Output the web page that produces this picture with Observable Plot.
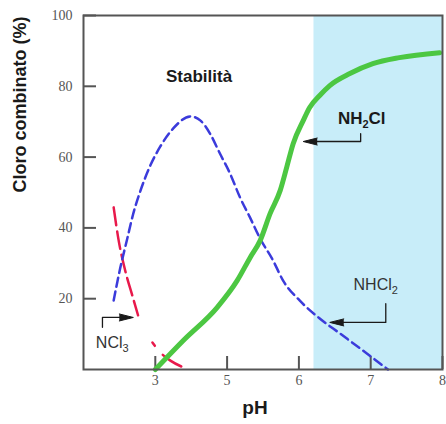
<!DOCTYPE html>
<html><head><meta charset="utf-8">
<script src="https://cdn.jsdelivr.net/npm/d3@7"></script>
<script src="https://cdn.jsdelivr.net/npm/@observablehq/plot@0.6"></script>
<style>body{margin:0;background:#fff;}</style>
</head><body><div id="chart"></div>
<script>
// Axis positions and labels (as printed on the chart)
const xTickValues = [3, 4, 5, 6, 7];
const xTickLabels = ["3", "5", "6", "7", "8"];
const yTickValues = [20, 40, 60, 80, 100];

// NH2Cl (green, solid)
const nh2clX = [3.0, 3.39, 3.86, 4.14, 4.32, 4.46, 4.60, 4.74, 4.83, 4.92, 5.06, 5.15, 5.29, 5.43, 5.71, 6.03, 6.40, 6.96];
const nh2clY = [0, 8.2, 17.5, 25.1, 31.6, 36.4, 44.1, 50.6, 57.1, 63.8, 70.3, 74.0, 77.4, 80.2, 83.6, 86.4, 88.1, 89.5];

// NHCl2 (blue, dashed)
const nhcl2X = [2.42, 2.51, 2.61, 2.69, 2.79, 2.93, 3.07, 3.25, 3.49, 3.63, 3.76, 3.90, 4.04, 4.18, 4.32, 4.46, 4.64, 4.78, 5.01, 5.29, 5.57, 5.89, 6.24];
const nhcl2Y = [19.5, 28.5, 37.0, 43.8, 50.3, 57.6, 63.0, 68.1, 71.5, 70.3, 66.7, 61.0, 55.4, 48.6, 42.9, 37.0, 30.8, 25.1, 19.5, 14.4, 10.2, 5.4, 0];

// NCl3 (red, dashed) – two visible pieces
const ncl3X = [2.42, 2.49, 2.58, 2.68, 2.76, 2.96, 3.07, 3.21, 3.39];
const ncl3Y = [45.8, 36.4, 28.0, 20.9, 15.3, 7.6, 4.8, 2.5, 0.6];
const ncl3Piece = [1, 1, 1, 1, 1, 2, 2, 2, 2];

// Stability zone (shaded)
const stableFrom = [5.21];
const stableTo = [7];

const nh2cl = nh2clX.map((x, i) => ({x, y: nh2clY[i]}));
const nhcl2 = nhcl2X.map((x, i) => ({x, y: nhcl2Y[i]}));
const ncl3 = ncl3X.map((x, i) => ({x, y: ncl3Y[i], piece: ncl3Piece[i]}));
const zone = stableFrom.map((f, i) => ({from: f, to: stableTo[i]}));

const sans = "'Liberation Sans', Arial, sans-serif";
const serif = "'Liberation Serif', 'Times New Roman', serif";
const ink = "#1a1a1a";

const plot = Plot.plot({
  width: 446, height: 424,
  marginLeft: 83, marginRight: 4, marginTop: 15, marginBottom: 55,
  x: {domain: [2, 7]},
  y: {domain: [0, 100]},
  style: {fontFamily: sans, background: "white", overflow: "visible"},
  marks: [
    Plot.rect(zone, {x1: "from", x2: "to", y1: 0, y2: 100, fill: "#c8edf9"}),
    Plot.axisX({ticks: xTickValues, tickFormat: d => xTickLabels[xTickValues.indexOf(d)], tickSize: -13, tickPadding: 19, fontFamily: serif, fontSize: 14, color: "#555", strokeWidth: 2, label: null}),
    Plot.axisY({ticks: yTickValues, tickSize: -13, tickPadding: 24, fontFamily: serif, fontSize: 14, color: "#555", strokeWidth: 2, label: null}),
    Plot.line(ncl3.filter(d => d.piece === 1), {x: "x", y: "y", stroke: "#e8194b", strokeWidth: 2.5, strokeDasharray: "18,6", curve: "monotone-x"}),
    Plot.line(ncl3.filter(d => d.piece === 2), {x: "x", y: "y", stroke: "#e8194b", strokeWidth: 2.5, strokeDasharray: "4,12,22", curve: "monotone-x"}),
    Plot.line(nhcl2, {x: "x", y: "y", stroke: "#3b3bdb", strokeWidth: 2.5, strokeDasharray: "9,5", curve: "monotone-x"}),
    Plot.line(nh2cl, {x: "x", y: "y", stroke: "#4cc742", strokeWidth: 5, curve: "monotone-x"}),
    Plot.frame({stroke: "#555", strokeWidth: 2}),
    // annotations
    Plot.text(["Stabilità"], {x: 3.61, y: 82.8, fontSize: 17, fontWeight: "bold", fill: ink}),
    Plot.text(["NH2Cl"], {x: 5.875, y: 70.9, fontSize: 17, fontWeight: "bold", fill: ink}),
    Plot.line([[5.86, 66.6], [5.86, 64.4], [5.24, 64.4]], {stroke: ink, strokeWidth: 1.3}),
    Plot.vector([[5.06, 64.4]], {x: d => d[0], y: d => d[1], length: 14, rotate: -90, anchor: "end", shape: "spike", r: 3.5, fill: ink, stroke: ink, strokeWidth: 1}),
    Plot.text(["NHCl2"], {x: 6.07, y: 24.0, fontSize: 16, fill: "#333"}),
    Plot.line([[6.21, 18.6], [6.21, 13.3], [5.61, 13.3]], {stroke: ink, strokeWidth: 1.3}),
    Plot.vector([[5.43, 13.3]], {x: d => d[0], y: d => d[1], length: 14, rotate: -90, anchor: "end", shape: "spike", r: 3.5, fill: ink, stroke: ink, strokeWidth: 1}),
    Plot.text(["NCl3"], {x: 2.40, y: 7.5, fontSize: 16, fill: "#333"}),
    Plot.line([[2.264, 11.9], [2.264, 14.7], [2.514, 14.7]], {stroke: ink, strokeWidth: 1.3}),
    Plot.vector([[2.694, 14.7]], {x: d => d[0], y: d => d[1], length: 14, rotate: 90, anchor: "end", shape: "spike", r: 3.5, fill: ink, stroke: ink, strokeWidth: 1}),
    // axis titles
    Plot.text(["pH"], {frameAnchor: "bottom", dx: -8, dy: 44, fontSize: 19, fontWeight: "bold", fill: ink}),
    Plot.text(["Cloro combinato (%)"], {frameAnchor: "left", dx: -63, rotate: -90, fontSize: 18, fontWeight: "bold", fill: ink})
  ]
});

// chemical subscripts
const subs = {
  "NH2Cl": 'NH<tspan dy="4" font-size="11">2</tspan><tspan dy="-4">Cl</tspan>',
  "NHCl2": 'NHCl<tspan dy="4" font-size="11">2</tspan>',
  "NCl3": 'NCl<tspan dy="4" font-size="11">3</tspan>'
};
plot.querySelectorAll("text").forEach(t => {
  const k = t.textContent;
  if (subs[k]) t.innerHTML = subs[k];
});
document.getElementById("chart").appendChild(plot);
</script>
</body></html>
